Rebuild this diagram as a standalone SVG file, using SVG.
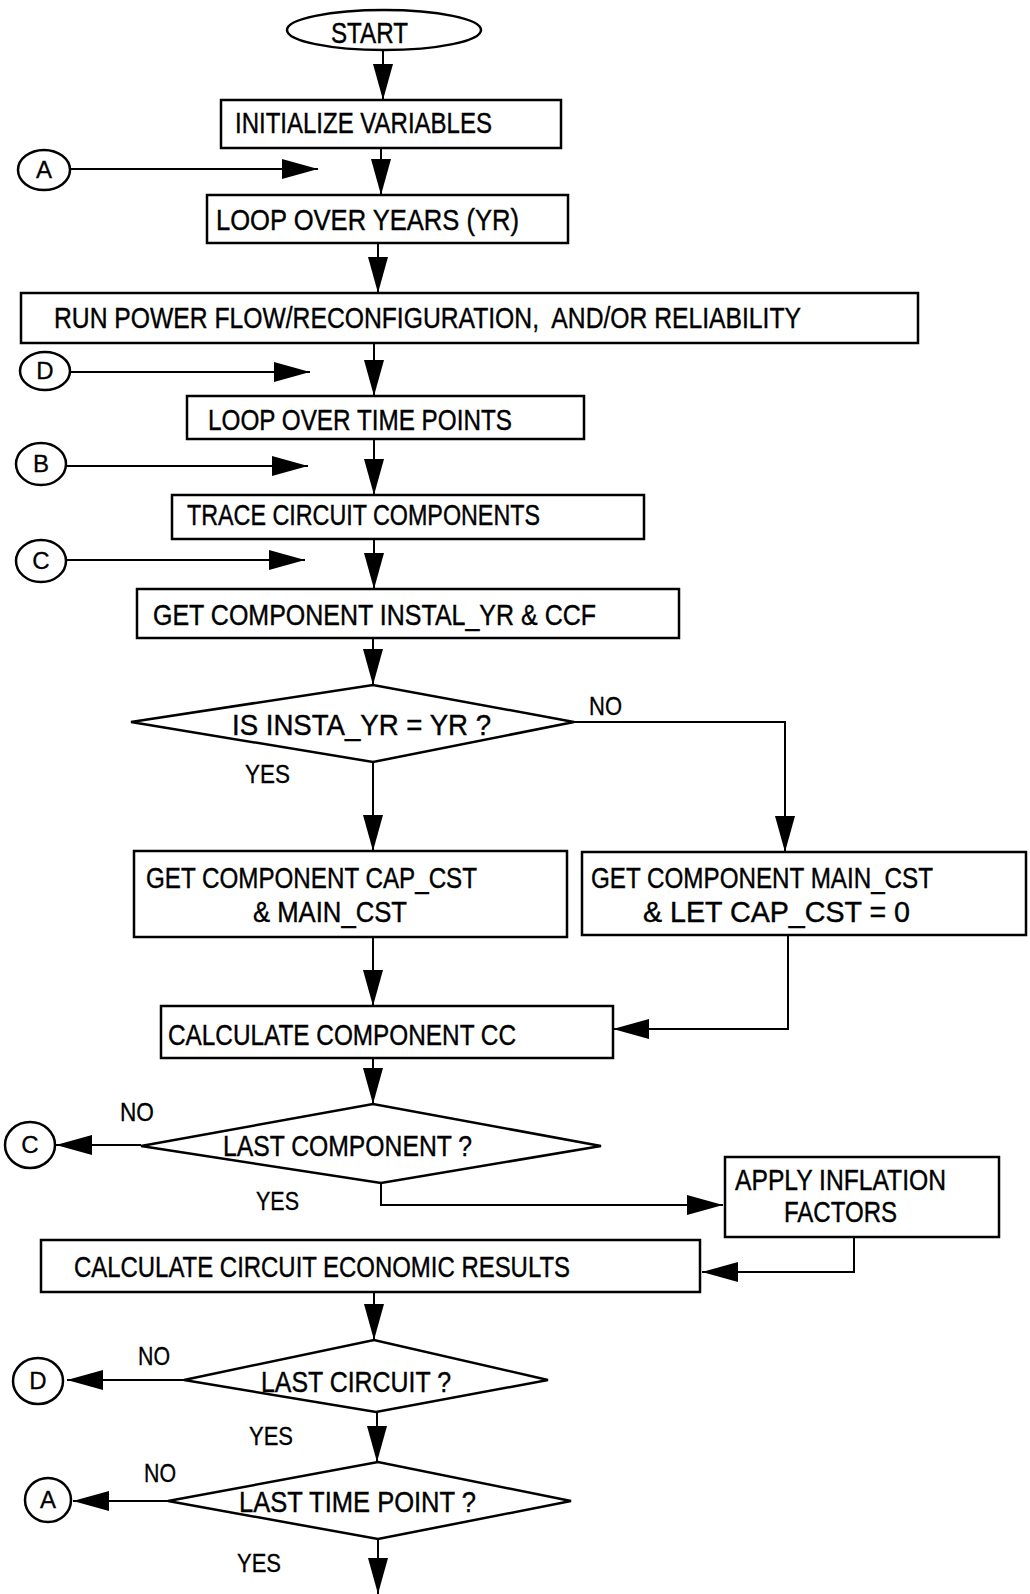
<svg xmlns="http://www.w3.org/2000/svg" width="1030" height="1594" viewBox="0 0 1030 1594">
<style>
.b{fill:#fff;stroke:#000;stroke-width:2.5}
.c{fill:none;stroke:#000;stroke-width:2}
.t{font-family:"Liberation Sans",Arial,sans-serif;font-size:29px;fill:#000;stroke:#000;stroke-width:0.4}
.l{font-family:"Liberation Sans",Arial,sans-serif;font-size:25px;fill:#000;stroke:#000;stroke-width:0.3}
.k{font-family:"Liberation Sans",Arial,sans-serif;font-size:24px;fill:#000;text-anchor:middle;stroke:#000;stroke-width:0.3}
</style>
<defs>
<marker id="ah" markerUnits="userSpaceOnUse" markerWidth="36" markerHeight="20" viewBox="0 0 36 20" refX="36" refY="10" orient="auto">
<path d="M0,0 L36,10 L0,20 z" fill="#000"/>
</marker>
</defs>
<rect width="1030" height="1594" fill="#fff"/>
<g id="connectors" class="c" marker-end="url(#ah)">
<path d="M383,50 L383,100"/>
<path d="M381,148 L381,195"/>
<path d="M71,169 L318,169"/>
<path d="M378,243 L378,293"/>
<path d="M374,343 L374,396"/>
<path d="M69,372 L310,372"/>
<path d="M374,439 L374,495"/>
<path d="M67,466 L308,466"/>
<path d="M374,539 L374,589"/>
<path d="M67,560 L305,560"/>
<path d="M373,638 L373,685"/>
<path d="M373,762 L373,851"/>
<path d="M574,722 L785,722 L785,852"/>
<path d="M373,937 L373,1006"/>
<path d="M788,935 L788,1029 L613,1029"/>
<path d="M373,1058 L373,1104"/>
<path d="M141,1145 L56,1145"/>
<path d="M381,1183 L381,1205 L723,1205"/>
<path d="M854,1237 L854,1272 L702,1272"/>
<path d="M374,1293 L374,1340"/>
<path d="M184,1380 L67,1380"/>
<path d="M377,1412 L377,1462"/>
<path d="M168,1501 L73,1501"/>
<path d="M378,1539 L378,1594"/>
</g>
<g id="start"><ellipse class="b" cx="384" cy="30" rx="97" ry="20"/><text class="t" x="331" y="43" textLength="77" lengthAdjust="spacingAndGlyphs">START</text></g>
<g id="init"><rect class="b" x="221" y="100" width="340" height="48"/><text class="t" x="235" y="133" textLength="257" lengthAdjust="spacingAndGlyphs">INITIALIZE VARIABLES</text></g>
<g id="loopyr"><rect class="b" x="207" y="195" width="361" height="48"/><text class="t" x="216" y="230" textLength="303" lengthAdjust="spacingAndGlyphs">LOOP OVER YEARS (YR)</text></g>
<g id="run"><rect class="b" x="21" y="293" width="897" height="50"/><text class="t" x="54" y="328" textLength="747" lengthAdjust="spacingAndGlyphs" xml:space="preserve">RUN POWER FLOW/RECONFIGURATION,  AND/OR RELIABILITY</text></g>
<g id="looptp"><rect class="b" x="187" y="396" width="397" height="43"/><text class="t" x="208" y="430" textLength="304" lengthAdjust="spacingAndGlyphs">LOOP OVER TIME POINTS</text></g>
<g id="trace"><rect class="b" x="172" y="495" width="472" height="44"/><text class="t" x="187" y="525" textLength="353" lengthAdjust="spacingAndGlyphs">TRACE CIRCUIT COMPONENTS</text></g>
<g id="getinst"><rect class="b" x="137" y="589" width="542" height="49"/><text class="t" x="153" y="625" textLength="443" lengthAdjust="spacingAndGlyphs">GET COMPONENT INSTAL_YR &amp; CCF</text></g>
<g id="dec1"><polygon class="b" points="131,722 373,685 574,722 373,762"/><text class="t" x="232" y="735" textLength="259" lengthAdjust="spacingAndGlyphs">IS INSTA_YR = YR ?</text></g>
<g id="getcap"><rect class="b" x="134" y="851" width="433" height="86"/><text class="t" x="146" y="888" textLength="331" lengthAdjust="spacingAndGlyphs">GET COMPONENT CAP_CST</text><text class="t" x="253" y="922" textLength="154" lengthAdjust="spacingAndGlyphs">&amp; MAIN_CST</text></g>
<g id="getmain"><rect class="b" x="582" y="852" width="444" height="83"/><text class="t" x="591" y="888" textLength="342" lengthAdjust="spacingAndGlyphs">GET COMPONENT MAIN_CST</text><text class="t" x="643" y="922" textLength="267" lengthAdjust="spacingAndGlyphs">&amp; LET CAP_CST = 0</text></g>
<g id="calccc"><rect class="b" x="161" y="1006" width="452" height="52"/><text class="t" x="168" y="1045" textLength="348" lengthAdjust="spacingAndGlyphs">CALCULATE COMPONENT CC</text></g>
<g id="dec2"><polygon class="b" points="141,1146 373,1104 601,1146 381,1183"/><text class="t" x="223" y="1156" textLength="249" lengthAdjust="spacingAndGlyphs">LAST COMPONENT ?</text></g>
<g id="apply"><rect class="b" x="725" y="1157" width="274" height="80"/><text class="t" x="735" y="1190" textLength="211" lengthAdjust="spacingAndGlyphs">APPLY INFLATION</text><text class="t" x="784" y="1222" textLength="113" lengthAdjust="spacingAndGlyphs">FACTORS</text></g>
<g id="calccirc"><rect class="b" x="41" y="1240" width="659" height="52"/><text class="t" x="74" y="1277" textLength="496" lengthAdjust="spacingAndGlyphs">CALCULATE CIRCUIT ECONOMIC RESULTS</text></g>
<g id="dec3"><polygon class="b" points="184,1380 374,1340 548,1380 376,1412"/><text class="t" x="261" y="1392" textLength="190" lengthAdjust="spacingAndGlyphs">LAST CIRCUIT ?</text></g>
<g id="dec4"><polygon class="b" points="168,1501 378,1462 571,1501 378,1539"/><text class="t" x="239" y="1512" textLength="237" lengthAdjust="spacingAndGlyphs">LAST TIME POINT ?</text></g>
<g id="labels">
<text class="l" x="589" y="715" textLength="33" lengthAdjust="spacingAndGlyphs">NO</text>
<text class="l" x="245" y="783" textLength="45" lengthAdjust="spacingAndGlyphs">YES</text>
<text class="l" x="120" y="1121" textLength="34" lengthAdjust="spacingAndGlyphs">NO</text>
<text class="l" x="256" y="1210" textLength="43" lengthAdjust="spacingAndGlyphs">YES</text>
<text class="l" x="138" y="1365" textLength="32" lengthAdjust="spacingAndGlyphs">NO</text>
<text class="l" x="249" y="1445" textLength="44" lengthAdjust="spacingAndGlyphs">YES</text>
<text class="l" x="144" y="1482" textLength="32" lengthAdjust="spacingAndGlyphs">NO</text>
<text class="l" x="237" y="1572" textLength="44" lengthAdjust="spacingAndGlyphs">YES</text>
</g>
<g id="connA1"><ellipse class="b" cx="44" cy="170" rx="26" ry="20"/><text class="k" x="44" y="178">A</text></g>
<g id="connD1"><ellipse class="b" cx="45" cy="371" rx="25" ry="19"/><text class="k" x="45" y="379">D</text></g>
<g id="connB1"><ellipse class="b" cx="41" cy="464" rx="25" ry="21"/><text class="k" x="41" y="472">B</text></g>
<g id="connC1"><ellipse class="b" cx="41" cy="561" rx="25" ry="21"/><text class="k" x="41" y="569">C</text></g>
<g id="connC2"><ellipse class="b" cx="30" cy="1145" rx="25" ry="23"/><text class="k" x="30" y="1153">C</text></g>
<g id="connD2"><ellipse class="b" cx="38" cy="1381" rx="25" ry="23"/><text class="k" x="38" y="1389">D</text></g>
<g id="connA2"><ellipse class="b" cx="48" cy="1500" rx="23" ry="22"/><text class="k" x="48" y="1508">A</text></g>
</svg>
